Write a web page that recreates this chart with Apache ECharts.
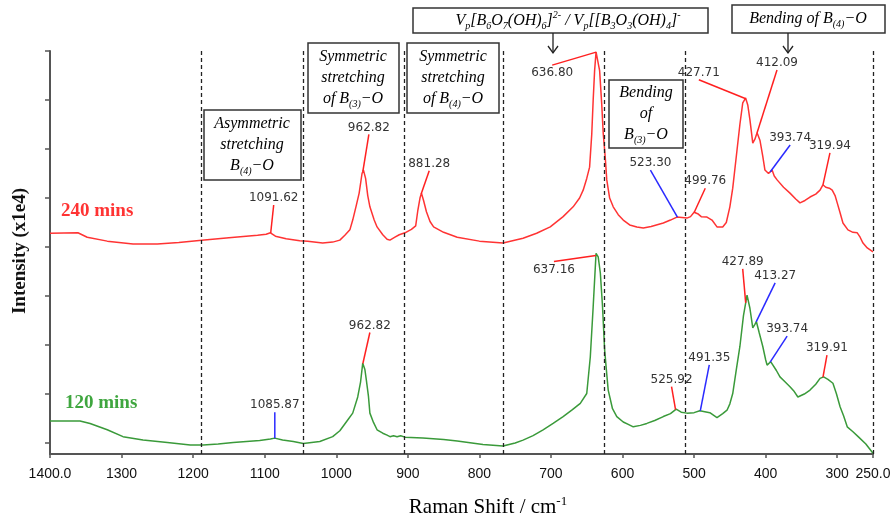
<!DOCTYPE html>
<html>
<head>
<meta charset="utf-8">
<script src="https://cdn.jsdelivr.net/npm/echarts@6/dist/echarts.min.js"></script>
<style>
  html, body { margin: 0; padding: 0; background: #fff; }
  #chart { width: 895px; height: 523px; }
</style>
</head>
<body>
<div id="chart"></div>
<script>
// x axis ticks (Raman shift, cm-1) and y ticks (arbitrary, x1e4 offset units)
const xTicks = [1400, 1300, 1200, 1100, 1000, 900, 800, 700, 600, 500, 400, 300, 250];
const yTicks = [0, 1, 2, 3, 4, 5, 6, 7, 8];
const dividers = [1188, 1046, 905, 767, 625, 512, 250];

// 240 mins spectrum
const redShift = [1400, 1361, 1348, 1320, 1284, 1250, 1220, 1188, 1150, 1110, 1098, 1092, 1085, 1070, 1051, 1040, 1019, 1005, 995, 988,
  981, 977, 972, 968, 964, 962, 959, 956, 953, 947, 943, 935, 929, 925, 918, 912, 904, 895, 889, 886,
  883, 881, 878, 874, 869, 864, 850, 831, 800, 767, 739, 720, 701, 683, 669, 660, 655, 650, 646, 643,
  641, 639, 637, 635, 632, 629, 627, 624, 622, 618, 613, 606, 599, 590, 580, 571, 560, 543, 533, 524,
  517, 510, 505, 500, 495, 490, 482, 475, 468, 460, 455, 450, 446, 440, 436, 432, 428, 425, 422, 418,
  415, 412, 408, 404, 401, 396, 391, 388, 384, 375, 366, 358, 352, 345, 338, 330, 324, 320, 316, 311,
  307, 303, 300, 296, 292, 285, 278, 272, 268, 264, 258, 250];
const redIntensity = [4.28, 4.29, 4.20, 4.12, 4.06, 4.06, 4.09, 4.14, 4.19, 4.24, 4.26, 4.29, 4.22, 4.17, 4.13, 4.12, 4.08, 4.10, 4.14, 4.24,
  4.35, 4.55, 4.85, 5.10, 5.50, 5.57, 5.40, 5.05, 4.82, 4.55, 4.41, 4.25, 4.16, 4.14, 4.20, 4.25, 4.29, 4.36, 4.43, 4.75,
  5.00, 5.10, 4.95, 4.72, 4.52, 4.41, 4.30, 4.20, 4.12, 4.08, 4.18, 4.28, 4.41, 4.62, 4.82, 5.00, 5.16, 5.40, 5.63, 6.30,
  7.00, 7.60, 7.98, 7.95, 7.60, 6.90, 6.33, 5.80, 5.37, 5.00, 4.82, 4.66, 4.55, 4.45, 4.41, 4.39, 4.42, 4.49, 4.55, 4.61,
  4.60, 4.59, 4.62, 4.71, 4.68, 4.62, 4.61, 4.55, 4.41, 4.41, 4.50, 4.82, 5.20, 5.98, 6.50, 6.94, 7.04, 6.90, 6.60, 6.12,
  6.20, 6.33, 6.18, 5.85, 5.57, 5.50, 5.57, 5.45, 5.37, 5.22, 5.10, 4.98, 4.90, 4.95, 5.02, 5.08, 5.16, 5.27, 5.22, 5.20,
  5.16, 5.05, 4.90, 4.70, 4.49, 4.35, 4.30, 4.29, 4.20, 4.08, 3.98, 3.90];

// 120 mins spectrum
const greenShift = [1400, 1358, 1344, 1320, 1298, 1270, 1236, 1204, 1186, 1165, 1144, 1107, 1092, 1086, 1075, 1060, 1046, 1023, 1005, 995,
  984, 977, 970, 966, 963, 960, 958, 955, 953, 948, 943, 935, 929, 925, 920, 915, 910, 904, 879, 850,
  831, 795, 767, 750, 739, 725, 711, 697, 683, 670, 659, 650, 645, 641, 637, 634, 631, 628, 625, 622,
  620, 614, 608, 599, 592, 585, 575, 566, 555, 543, 533, 525, 518, 510, 500, 492, 485, 478, 468, 460,
  454, 450, 446, 441, 436, 431, 426, 422, 418, 415, 413, 409, 404, 400, 398, 393, 391, 385, 380, 373,
  366, 360, 355, 346, 338, 330, 324, 319, 313, 306, 301, 296, 291, 286, 278, 270, 260, 250];
const greenIntensity = [0.45, 0.45, 0.40, 0.27, 0.13, 0.06, 0.01, -0.04, -0.04, -0.02, 0.01, 0.05, 0.08, 0.10, 0.06, 0.03, -0.01, 0.03, 0.13, 0.25,
  0.47, 0.61, 0.94, 1.25, 1.63, 1.50, 1.29, 0.95, 0.61, 0.42, 0.27, 0.20, 0.16, 0.13, 0.15, 0.13, 0.15, 0.12, 0.10, 0.07,
  0.04, -0.03, -0.06, 0.00, 0.06, 0.15, 0.27, 0.40, 0.54, 0.68, 0.81, 1.01, 1.76, 2.78, 3.87, 3.80, 3.47, 2.80, 1.90, 1.40,
  1.08, 0.70, 0.54, 0.43, 0.38, 0.33, 0.36, 0.40, 0.46, 0.54, 0.60, 0.69, 0.63, 0.61, 0.62, 0.66, 0.64, 0.62, 0.52, 0.60,
  0.67, 0.80, 1.01, 1.50, 1.97, 2.60, 3.02, 2.75, 2.35, 2.42, 2.48, 2.25, 1.97, 1.70, 1.59, 1.66, 1.66, 1.48, 1.35, 1.25,
  1.15, 1.05, 0.94, 1.00, 1.08, 1.20, 1.32, 1.35, 1.30, 1.22, 1.00, 0.74, 0.55, 0.33, 0.23, 0.12, -0.02, -0.21];

// labelled peaks
const redPeaks = [1091.62, 962.82, 881.28, 636.80, 523.30, 499.76, 427.71, 412.09, 393.74, 319.94];
const greenPeaks = [1085.87, 962.82, 637.16, 525.92, 491.35, 427.89, 413.27, 393.74, 319.91];

// leader line layout: [dx, dy, colour] in px from the peak point
const redLeaders = [[3, -28, 'r'], [6, -37, 'r'], [8, -23, 'r'], [-44, 13, 'r'], [-27, -47, 'b'],
  [11, -24, 'r'], [-47, -19, 'r'], [20, -63, 'r'], [20, -27, 'b'], [7, -32, 'r']];
const greenLeaders = [[0, -26, 'b'], [7, -31, 'r'], [-42, 6, 'r'], [-4, -23, 'r'], [9, -46, 'b'],
  [-3, -34, 'r'], [19, -39, 'b'], [17, -26, 'b'], [4, -22, 'r']];

const RED = '#ff3333';
const GREEN = '#3a9a3a';
const LEAD_RED = '#ff2020';
const LEAD_BLUE = '#2a2aff';

function zip(xs, ys) {
    return xs.map((x, i) => [x, ys[i]]);
}

// y on the spectrum at a given shift (for where the leader touches the curve)
function valueAt(xs, ys, x) {
    for (let i = 0; i < xs.length - 1; i++) {
        if (x <= xs[i] && x >= xs[i + 1]) {
            const t = (xs[i] - x) / (xs[i] - xs[i + 1]);
            return ys[i] + t * (ys[i + 1] - ys[i]);
        }
    }
    return ys[ys.length - 1];
}

function leaderSeries(name, peaks, xs, ys, leaders) {
    return {
        type: 'custom',
        name: name,
        silent: true,
        clip: false,
        z: 5,
        encode: {x: 0, y: 1},
        data: peaks.map((p, i) => [p, valueAt(xs, ys, p), i]),
        renderItem: function (params, api) {
            const i = api.value(2);
            const pt = api.coord([api.value(0), api.value(1)]);
            const l = leaders[i];
            const ex = pt[0] + l[0], ey = pt[1] + l[1];
            const below = l[1] > 0;
            return {
                type: 'group',
                children: [
                    {
                        type: 'line',
                        shape: {x1: pt[0], y1: pt[1], x2: ex, y2: ey},
                        style: {stroke: l[2] === 'b' ? LEAD_BLUE : LEAD_RED, lineWidth: 1.5}
                    },
                    {
                        type: 'text',
                        x: ex,
                        y: below ? ey + 2 : ey - 1,
                        style: {
                            text: peaks[i].toFixed(2),
                            fill: '#333',
                            font: '12px "DejaVu Sans"',
                            align: 'center',
                            verticalAlign: below ? 'top' : 'bottom'
                        }
                    }
                ]
            };
        }
    };
}

const serifIt = {fontFamily: 'Liberation Serif', fontStyle: 'italic', fontSize: 16, lineHeight: 21, color: '#111'};
const boxRich = {
    i: serifIt,
    s: {fontFamily: 'Liberation Serif', fontStyle: 'italic', fontSize: 10, lineHeight: 8, verticalAlign: 'bottom', color: '#111'},
    p: {fontFamily: 'Liberation Serif', fontStyle: 'italic', fontSize: 10, lineHeight: 8, verticalAlign: 'top', color: '#111'}
};

function box(x, y, w, h, text, cx, cy) {
    return [
        {type: 'rect', shape: {x: x, y: y, width: w, height: h}, style: {fill: '#fff', stroke: '#333', lineWidth: 1.5}, z: 10},
        {type: 'text', x: cx, y: cy, style: {text: text, rich: boxRich, align: 'center', verticalAlign: 'middle'}, z: 11}
    ];
}

function arrow(x, y1, y2) {
    return [
        {type: 'line', shape: {x1: x, y1: y1, x2: x, y2: y2}, style: {stroke: '#222', lineWidth: 1.3}, z: 10},
        {type: 'polyline', shape: {points: [[x - 5, y2 - 7], [x, y2], [x + 5, y2 - 7]]}, style: {stroke: '#222', lineWidth: 1.3, fill: null}, z: 10}
    ];
}

const chart = echarts.init(document.getElementById('chart'));

const graphics = [].concat(
    box(204, 110, 97, 70, '{i|Asymmetric}\n{i|stretching}\n{i|B}{s|(4)}{i|−O}', 252, 145),
    box(308, 43, 91, 70, '{i|Symmetric}\n{i|stretching}\n{i|of B}{s|(3)}{i|−O}', 353, 78),
    box(407, 43, 92, 70, '{i|Symmetric}\n{i|stretching}\n{i|of B}{s|(4)}{i|−O}', 453, 78),
    box(413, 8, 295, 25, '{i|V}{s|p}{i|[B}{s|6}{i|O}{s|7}{i|(OH)}{s|6}{i|]}{p|2-}{i| / V}{s|p}{i|[[B}{s|3}{i|O}{s|3}{i|(OH)}{s|4}{i|]}{p|-}', 568, 21),
    box(609, 80, 74, 68, '{i|Bending}\n{i|of}\n{i|B}{s|(3)}{i|−O}', 646, 114),
    box(732, 5, 153, 28, '{i|Bending of B}{s|(4)}{i|−O}', 808, 19),
    arrow(553, 33, 53),
    arrow(788, 33, 53),
    [
        {type: 'text', x: 61, y: 211, style: {text: '240 mins', fill: RED, font: 'bold 19px "Liberation Serif"', verticalAlign: 'middle'}},
        {type: 'text', x: 65, y: 403, style: {text: '120 mins', fill: '#3fa63f', font: 'bold 19px "Liberation Serif"', verticalAlign: 'middle'}},
        {
            type: 'text', x: 20, y: 251, rotation: Math.PI / 2,
            style: {text: 'Intensity (x1e4)', fill: '#111', font: 'bold 19px "Liberation Serif"', align: 'center', verticalAlign: 'middle'}
        },
        {
            type: 'text', x: 488, y: 507,
            style: {
                text: '{a|Raman Shift / cm}{b|-1}',
                align: 'center', verticalAlign: 'middle',
                rich: {
                    a: {fontFamily: 'Liberation Serif', fontSize: 21, lineHeight: 24, color: '#111'},
                    b: {fontFamily: 'Liberation Serif', fontSize: 13, lineHeight: 10, verticalAlign: 'top', color: '#111'}
                }
            }
        }
    ]
);

const option = {
    animation: false,
    backgroundColor: '#fff',
    grid: {left: 50, right: 22, top: 51, bottom: 69, containLabel: false, outerBoundsMode: 'none'},
    xAxis: {
        type: 'value',
        inverse: true,
        min: 250,
        max: 1400,
        splitLine: {show: false},
        axisLine: {onZero: false, lineStyle: {color: '#555', width: 2}},
        axisTick: {show: true, customValues: xTicks, length: 4, lineStyle: {color: '#555', width: 1.5}},
        axisLabel: {
            customValues: xTicks,
            showMinLabel: true,
            showMaxLabel: true,
            margin: 13,
            color: '#111',
            fontFamily: 'Liberation Sans',
            fontSize: 14,
            formatter: v => (v === 1400 || v === 250) ? v.toFixed(1) : String(v)
        }
    },
    yAxis: {
        type: 'value',
        min: -0.224,
        max: 8,
        splitLine: {show: false},
        axisLine: {show: true, onZero: false, lineStyle: {color: '#555', width: 2}},
        axisTick: {show: true, customValues: yTicks, length: 5, lineStyle: {color: '#555', width: 1.5}},
        axisLabel: {show: false}
    },
    series: [
        {
            type: 'line',
            name: '240 mins',
            data: zip(redShift, redIntensity),
            showSymbol: false,
            lineStyle: {color: RED, width: 1.5},
            z: 3,
            markLine: {
                silent: true,
                symbol: 'none',
                label: {show: false},
                lineStyle: {color: '#222', width: 1.3, type: [4, 3]},
                data: dividers.map(v => ({xAxis: v}))
            }
        },
        {
            type: 'line',
            name: '120 mins',
            data: zip(greenShift, greenIntensity),
            showSymbol: false,
            lineStyle: {color: GREEN, width: 1.5},
            z: 3
        },
        leaderSeries('240 peaks', redPeaks, redShift, redIntensity, redLeaders),
        leaderSeries('120 peaks', greenPeaks, greenShift, greenIntensity, greenLeaders)
    ],
    graphic: graphics
};

chart.setOption(option);
</script>
</body>
</html>
